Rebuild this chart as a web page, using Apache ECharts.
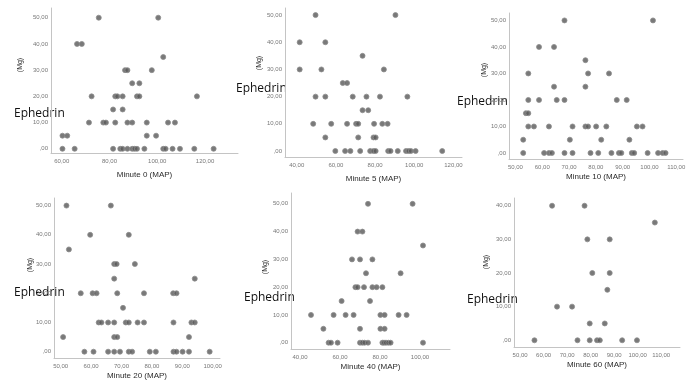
<!DOCTYPE html>
<html>
<head>
<meta charset="utf-8">
<script src="https://cdn.jsdelivr.net/npm/echarts@6/dist/echarts.min.js"></script>
<style>
  html, body { margin: 0; padding: 0; background: #fff; }
  #chart { width: 691px; height: 382px; }
</style>
</head>
<body>
<div id="chart"></div>
<script>
// Ephedrin dose (Mg) against MAP, one list of [MAP, Mg] per time point
const minute0 = [
  [75.5, 50], [100.4, 50],
  [66.4, 40], [68.4, 40],
  [102.5, 35],
  [86.5, 30], [87.5, 30], [97.7, 30],
  [89.5, 25], [92.5, 25],
  [72.5, 20], [82.4, 20], [83.3, 20], [85.5, 20], [91.5, 20], [92.5, 20], [116.6, 20],
  [81.5, 15], [85.5, 15],
  [71.4, 10], [77.4, 10], [78.5, 10], [82.4, 10], [87.5, 10], [89.5, 10], [95.6, 10], [104.5, 10], [107.4, 10],
  [60.3, 5], [62.3, 5], [95.6, 5], [99.5, 5],
  [60.3, 0], [65.4, 0], [81.5, 0], [84.5, 0], [85.5, 0], [87.5, 0], [89.5, 0], [90.5, 0], [91.5, 0],
  [94.6, 0], [102.5, 0], [103.5, 0], [106.4, 0], [109.5, 0], [115.5, 0], [123.6, 0]
]
const minute5 = [
  [49.6, 50], [90.4, 50],
  [41.5, 40], [54.6, 40],
  [73.6, 35],
  [41.5, 30], [52.6, 30], [84.5, 30],
  [63.5, 25], [65.7, 25],
  [49.6, 20], [54.6, 20], [68.6, 20], [75.6, 20], [82.5, 20], [96.5, 20],
  [73.6, 15], [76.5, 15],
  [48.4, 10], [57.6, 10], [65.7, 10], [70.3, 10], [71.4, 10], [79.5, 10], [83.7, 10], [86.4, 10],
  [54.6, 5], [71.4, 5], [79.2, 5], [80.3, 5],
  [59.7, 0], [64.7, 0], [67.4, 0], [72.4, 0], [77.5, 0], [79.2, 0], [80.3, 0], [86.7, 0],
  [87.9, 0], [91.6, 0], [95.8, 0], [97.1, 0], [98.3, 0], [100.7, 0], [114.3, 0]
]
const minute10 = [
  [68.3, 50], [101.3, 50],
  [58.8, 40], [64.4, 40],
  [76.1, 35],
  [54.8, 30], [77.1, 30], [84.9, 30],
  [64.4, 25], [76.1, 25],
  [54.8, 20], [58.8, 20], [65.4, 20], [68.3, 20], [87.8, 20], [91.5, 20],
  [53.9, 15], [54.8, 15],
  [54.8, 10], [56.9, 10], [62.5, 10], [71.3, 10], [76.1, 10], [77.1, 10], [80.1, 10], [83.9, 10], [95.3, 10], [97.4, 10],
  [52.9, 5], [70.3, 5], [82, 5], [92.5, 5],
  [52.9, 0], [60.7, 0], [62.5, 0], [63.6, 0], [68.3, 0], [71.3, 0], [78, 0], [80.9, 0], [85.8, 0],
  [88.6, 0], [89.5, 0], [93.4, 0], [94.3, 0], [99.3, 0], [103.2, 0], [104.9, 0], [106, 0]
]
const minute20 = [
  [51.9, 50], [66.5, 50],
  [59.7, 40], [72.4, 40],
  [52.7, 35],
  [67.6, 30], [68.4, 30], [74.4, 30],
  [67.6, 25], [94.1, 25],
  [56.6, 20], [60.5, 20], [61.8, 20], [68.6, 20], [77.4, 20], [87, 20], [88.1, 20],
  [70.5, 15],
  [62.5, 10], [63.4, 10], [65.6, 10], [67.6, 10], [71.4, 10], [72.4, 10], [75.3, 10], [77.4, 10], [87.1, 10], [93, 10], [94.1, 10],
  [50.8, 5], [67.6, 5], [68.6, 5], [92.2, 5],
  [57.8, 0], [60.8, 0], [65.6, 0], [67.6, 0], [69.5, 0], [72.4, 0], [73.5, 0], [79.3, 0], [81.3, 0],
  [87.1, 0], [88.1, 0], [90.1, 0], [92.2, 0], [99, 0]
]
const minute40 = [
  [74, 50], [96.3, 50],
  [68.8, 40], [71.2, 40],
  [101.5, 35],
  [66, 30], [70, 30], [76.2, 30],
  [73, 25], [90.3, 25],
  [67.7, 20], [68.8, 20], [72, 20], [76.2, 20], [78.3, 20], [81.2, 20],
  [60.8, 15], [75, 15],
  [45.5, 10], [56.8, 10], [62.8, 10], [66.8, 10], [80.2, 10], [82.3, 10], [89.3, 10], [93.3, 10],
  [51.7, 5], [70, 5], [80.2, 5], [82.3, 5],
  [54.3, 0], [55.5, 0], [58.8, 0], [70, 0], [71.2, 0], [72.3, 0], [74, 0], [81.2, 0], [82, 0],
  [83, 0], [84.2, 0], [85.3, 0], [101.5, 0]
]
const minute60 = [
  [63.6, 40], [77.4, 40],
  [107.3, 35],
  [78.6, 30], [88.1, 30],
  [80.7, 20], [88.1, 20],
  [87.1, 15],
  [65.7, 10], [72.1, 10],
  [79.6, 5], [86, 5],
  [56.1, 0], [74.4, 0], [79.6, 0], [82.7, 0], [83.9, 0], [93.4, 0], [99.7, 0]
]

// tick labels
const mgTicks50 = [0, 10, 20, 30, 40, 50]
const mgTicks40 = [0, 10, 20, 30, 40]
const mapTicks0 = [60, 80, 100, 120]
const mapTicks5 = [40, 60, 80, 100, 120]
const mapTicks10 = [50, 60, 70, 80, 90, 100, 110]
const mapTicks20 = [50, 60, 70, 80, 90, 100]
const mapTicks40 = [40, 60, 80, 100]
const mapTicks60 = [50, 60, 70, 80, 90, 100, 110]

const titles = ['Minute 0 (MAP)', 'Minute 5 (MAP)', 'Minute 10 (MAP)', 'Minute 20 (MAP)', 'Minute 40 (MAP)', 'Minute 60 (MAP)']

// layout of each small plot
const panels = [
  {data: minute0, xt: mapTicks0, yt: mgTicks50, grid: {left: 51, top: 8, width: 187, height: 145}, x: [55.5, 133.8], y: [-1.6, 53.7], gap: 18, mg: [20, 65], eph: [14, 114]},
  {data: minute5, xt: mapTicks5, yt: mgTicks50, grid: {left: 285, top: 8, width: 177, height: 149}, x: [34, 124.4], y: [-2.2, 52.6], gap: 18, mg: [259, 63], eph: [236, 89]},
  {data: minute10, xt: mapTicks10, yt: mgTicks50, grid: {left: 509, top: 13, width: 174, height: 146}, x: [47.6, 112.5], y: [-2.27, 52.8], gap: 14, mg: [484, 70], eph: [457, 102]},
  {data: minute20, xt: mapTicks20, yt: mgTicks50, grid: {left: 54, top: 198, width: 166, height: 160}, x: [47.8, 102.4], y: [-2.16, 52.6], gap: 14, mg: [30, 265], eph: [14, 293]},
  {data: minute40, xt: mapTicks40, yt: mgTicks50, grid: {left: 291, top: 193, width: 159, height: 156}, x: [35.5, 115], y: [-2.27, 53.9], gap: 14, mg: [265, 267], eph: [244, 298]},
  {data: minute60, xt: mapTicks60, yt: mgTicks40, grid: {left: 514, top: 198, width: 166, height: 149}, x: [47.4, 118], y: [-2, 42.3], gap: 14, mg: [486, 262], eph: [467, 300]}
]

// SPSS style numbers: 50,00 and ,00 for zero
const spss = (v) => v === 0 ? ',00' : v.toFixed(2).replace('.', ',')

const axisLine = {lineStyle: {color: '#c4c4c4', width: 1}}
const tickFont = {fontSize: 6, color: '#777', fontFamily: 'Liberation Sans'}

const myChart = echarts.init(document.getElementById('chart'))

const option = {
  animation: false,
  grid: panels.map(p => p.grid),
  xAxis: panels.map((p, i) => ({
    type: 'value',
    gridIndex: i,
    min: p.x[0],
    max: p.x[1],
    name: titles[i],
    nameLocation: 'middle',
    nameGap: p.gap,
    nameTextStyle: {fontSize: 8, color: '#2b2b2b', fontFamily: 'Liberation Sans'},
    axisLine: {show: true, onZero: false, ...axisLine},
    axisTick: {show: false},
    splitLine: {show: false},
    axisLabel: {...tickFont, margin: 5, customValues: p.xt, formatter: spss}
  })),
  yAxis: panels.map((p, i) => ({
    type: 'value',
    gridIndex: i,
    min: p.y[0],
    max: p.y[1],
    axisLine: {show: true, onZero: false, ...axisLine},
    axisTick: {show: false},
    splitLine: {show: false},
    axisLabel: {...tickFont, margin: 3, customValues: p.yt, formatter: spss}
  })),
  series: panels.map((p, i) => ({
    type: 'scatter',
    xAxisIndex: i,
    yAxisIndex: i,
    symbolSize: 5,
    itemStyle: {color: '#585858', borderColor: '#8c8c8c', borderWidth: 1},
    data: p.data
  })),
  graphic: [
    ...panels.map(p => ({
      type: 'text',
      x: p.mg[0],
      y: p.mg[1],
      rotation: Math.PI / 2,
      style: {text: '(Mg)', fontSize: 7, fill: '#2b2b2b', fontFamily: 'Liberation Sans', align: 'center', verticalAlign: 'middle'}
    })),
    ...panels.map(p => ({
      type: 'text',
      x: p.eph[0],
      y: p.eph[1],
      style: {text: 'Ephedrin', fontSize: 12, fill: '#111', fontFamily: 'Open Sans', align: 'left', verticalAlign: 'middle'}
    }))
  ]
}

myChart.setOption(option)
</script>
</body>
</html>
